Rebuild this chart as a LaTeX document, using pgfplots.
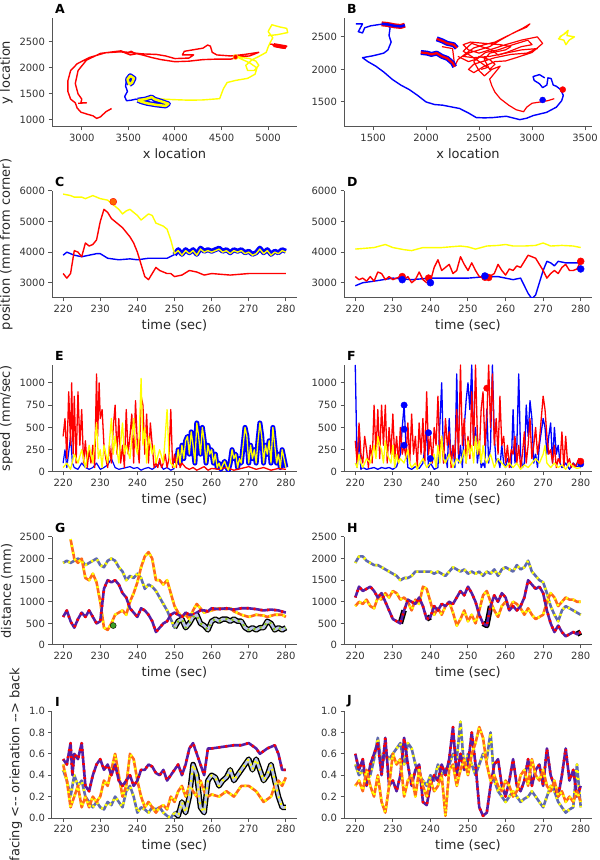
\documentclass[border=0pt]{standalone}
\usepackage{fontspec}
\setmainfont{DejaVu Sans}
\usepackage{pgfplots}
\usepackage{pgfplotstable}
\pgfplotsset{compat=1.18}
\definecolor{myred}{RGB}{255,0,0}
\definecolor{myblue}{RGB}{0,0,255}
\definecolor{myyel}{RGB}{255,255,0}
\definecolor{spine}{RGB}{85,85,85}
\definecolor{mygreen}{RGB}{60,160,40}
\definecolor{purp}{RGB}{85,30,165}
\definecolor{orng}{RGB}{255,105,25}
\definecolor{slate}{RGB}{95,105,175}
\definecolor{pale}{RGB}{185,195,235}
\tikzset{letter/.style={font=\bfseries\fontsize{12.5}{13}\selectfont, anchor=south west, inner sep=1pt, xshift=2pt, yshift=3pt}}
\pgfplotsset{
  panel/.style={scale only axis, axis x line*=bottom, axis y line*=left,
    axis line style={spine, line width=1pt},
    every tick/.style={spine, line width=1pt},
    tick align=outside, major tick length=3.5pt,
    tick label style={font=\fontsize{10}{11}\selectfont, text=black!80},
    label style={font=\fontsize{13}{14}\selectfont, text=black!85},
    /pgf/number format/assume math mode=true,
    /pgf/number format/1000 sep={},
    scaled ticks=false,
    every axis plot/.append style={line join=round},
  },
  ts/.style={panel, xmin=217, xmax=283, xtick={220,230,...,280}, xlabel={time (sec)}},
  R/.style={myred, line width=1.4pt},
  B/.style={myblue, line width=1.4pt},
  Y/.style={myyel, line width=1.4pt},
  hb/.style={myblue, line width=5pt},
  hr/.style={myred, line width=5pt},
  dbase/.style={line width=2.6pt},
  ddash/.style={line width=2.6pt, dash pattern=on 2pt off 5pt, dash phase=1pt},
  BRp/.style={dbase, purp}, BRd/.style={ddash, myred},
  RYp/.style={dbase, orng}, RYd/.style={ddash, myyel},
  BYp/.style={dbase, slate}, BYd/.style={ddash, myyel},
  blk/.style={black, line width=5.5pt},
}
% ---------- distance tables ----------
\pgfplotstableread[row sep=\\]{t v\\ 220 650\\ 221 800\\ 222 550\\ 223 400\\ 224 600\\ 225 750\\ 226 650\\ 227 800\\ 228 650\\ 229 500\\ 230 550\\ 231 1300\\ 232 1500\\ 233 1450\\ 234 1500\\ 235 1400\\ 236 1200\\ 237 1100\\ 238 850\\ 239 750\\ 240 650\\ 241 850\\ 242 800\\ 243 700\\ 244 550\\ 245 300\\ 246 400\\ 247 500\\ 248 550\\ 249 700\\ 250 750\\ 251 700\\ 252 650\\ 253 750\\ 254 700\\ 255 700\\ 256 750\\ 257 800\\ 258 800\\ 259 780\\ 260 850\\ 262 830\\ 264 850\\ 266 820\\ 268 850\\ 270 850\\ 272 830\\ 274 800\\ 276 820\\ 278 800\\ 280 750\\}\GBR
\pgfplotstableread[row sep=\\]{t v\\ 222 2450\\ 223 2000\\ 224 1900\\ 225 2000\\ 226 1550\\ 227 1500\\ 228 1650\\ 229 1450\\ 230 1000\\ 231 400\\ 232 350\\ 233 500\\ 234 700\\ 235 750\\ 236 800\\ 237 700\\ 238 1000\\ 239 1200\\ 240 1450\\ 241 1800\\ 242 2050\\ 243 2150\\ 244 2000\\ 245 1500\\ 246 1500\\ 247 1400\\ 248 1500\\ 249 1200\\ 250 900\\ 251 750\\ 252 650\\ 253 700\\ 254 600\\ 255 800\\ 256 950\\ 257 850\\ 258 750\\ 259 780\\ 260 800\\ 262 850\\ 264 830\\ 265 850\\ 266 780\\ 268 700\\ 270 650\\ 272 700\\ 274 680\\ 275 650\\ 277 700\\ 279 700\\ 280 650\\}\GRY
\pgfplotstableread[row sep=\\]{t v\\ 220 1900\\ 221 1950\\ 222 1900\\ 223 1950\\ 224 2000\\ 225 1950\\ 226 1850\\ 227 1900\\ 228 1950\\ 229 2000\\ 230 1850\\ 231 1800\\ 232 1950\\ 233 2000\\ 234 1950\\ 235 1800\\ 236 1700\\ 237 1500\\ 238 1600\\ 239 1550\\ 240 1650\\ 241 1550\\ 242 1300\\ 243 1400\\ 244 1350\\ 245 1250\\ 246 1100\\ 247 950\\ 248 800\\ 249 600\\ 250 400\\ 251 550\\ 252 600\\ 253 400\\ 254 500\\ 255 650\\ 256 700\\ 257 500\\ 258 450\\ 259 350\\ 260 550\\ 261 600\\ 262 550\\ 263 600\\ 264 600\\ 265 550\\ 266 600\\ 267 550\\ 268 550\\ 269 400\\ 270 350\\ 271 400\\ 272 350\\ 273 400\\ 274 400\\ 275 550\\ 276 500\\ 277 350\\ 278 400\\ 279 350\\ 280 400\\}\GBY
\pgfplotstableread[row sep=\\]{t v\\ 220 1100\\ 221 1350\\ 222 1250\\ 223 1300\\ 224 1350\\ 225 1250\\ 226 1100\\ 227 1200\\ 228 1000\\ 229 800\\ 230 600\\ 231 550\\ 232 500\\ 233 800\\ 234 1050\\ 235 1000\\ 236 950\\ 237 1100\\ 238 900\\ 239 600\\ 240 650\\ 241 900\\ 242 800\\ 243 950\\ 244 900\\ 245 1000\\ 246 950\\ 247 1100\\ 248 1250\\ 249 1150\\ 250 1350\\ 251 1200\\ 252 1000\\ 253 700\\ 254 500\\ 255 450\\ 256 900\\ 257 1150\\ 258 1000\\ 259 1200\\ 260 1100\\ 261 800\\ 262 900\\ 263 800\\ 264 900\\ 265 1100\\ 266 1500\\ 267 1400\\ 268 1300\\ 269 1350\\ 270 1200\\ 271 800\\ 272 500\\ 273 300\\ 274 450\\ 275 300\\ 276 200\\ 277 250\\ 278 300\\ 279 250\\ 280 300\\}\HBR
\pgfplotstableread[row sep=\\]{t v\\ 220 900\\ 221 1000\\ 222 950\\ 223 1050\\ 224 900\\ 225 850\\ 226 1100\\ 227 1050\\ 228 1200\\ 229 1100\\ 230 1250\\ 231 1200\\ 232 1050\\ 233 1100\\ 234 1000\\ 235 800\\ 236 1050\\ 237 950\\ 238 1350\\ 239 1300\\ 240 1000\\ 241 700\\ 242 850\\ 243 700\\ 244 900\\ 245 1000\\ 246 750\\ 247 450\\ 248 600\\ 249 800\\ 250 550\\ 251 700\\ 252 500\\ 253 800\\ 254 1150\\ 255 1250\\ 256 1000\\ 257 800\\ 258 650\\ 259 900\\ 260 1000\\ 261 850\\ 262 1000\\ 263 950\\ 264 850\\ 265 700\\ 266 850\\ 267 700\\ 268 600\\ 269 650\\ 270 700\\ 271 1000\\ 272 1200\\ 273 1100\\ 274 900\\ 275 1000\\ 276 1100\\ 277 1050\\ 278 1050\\ 279 1000\\ 280 1000\\}\HRY
\pgfplotstableread[row sep=\\]{t v\\ 220 1900\\ 221 2050\\ 222 2050\\ 223 1950\\ 224 1900\\ 225 1850\\ 226 1850\\ 227 1800\\ 228 1750\\ 229 1700\\ 230 1650\\ 231 1600\\ 232 1500\\ 233 1550\\ 234 1550\\ 235 1600\\ 236 1700\\ 237 1700\\ 238 1700\\ 239 1700\\ 240 1700\\ 241 1650\\ 242 1700\\ 243 1650\\ 244 1600\\ 245 1700\\ 246 1800\\ 247 1750\\ 248 1700\\ 249 1750\\ 250 1650\\ 251 1700\\ 252 1650\\ 253 1700\\ 254 1600\\ 255 1700\\ 256 1650\\ 257 1750\\ 258 1600\\ 259 1750\\ 260 1800\\ 261 1750\\ 262 1700\\ 263 1850\\ 264 1750\\ 265 1800\\ 266 1950\\ 267 1700\\ 268 1600\\ 269 1500\\ 270 1450\\ 271 1200\\ 272 900\\ 273 700\\ 274 550\\ 275 800\\ 276 900\\ 277 850\\ 278 800\\ 279 750\\ 280 700\\}\HBY
% ---------- orientation tables ----------
\pgfplotstableread[row sep=\\]{t v\\ 220 0.55\\ 221 0.5\\ 222 0.7\\ 222.5 0.4\\ 223 0.6\\ 224 0.55\\ 225 0.7\\ 226 0.3\\ 227 0.25\\ 228 0.4\\ 229 0.5\\ 230 0.55\\ 231 0.45\\ 232 0.5\\ 233 0.4\\ 234 0.5\\ 235 0.35\\ 236 0.3\\ 237 0.35\\ 238 0.4\\ 239 0.3\\ 240 0.35\\ 241 0.45\\ 242 0.45\\ 243 0.5\\ 244 0.48\\ 245 0.42\\ 246 0.4\\ 247 0.45\\ 248 0.35\\ 249 0.4\\ 250 0.45\\ 251 0.5\\ 252 0.4\\ 253 0.5\\ 254 0.65\\ 255 0.7\\ 256 0.6\\ 257 0.5\\ 258 0.4\\ 259 0.65\\ 260 0.65\\ 262 0.66\\ 264 0.67\\ 266 0.68\\ 268 0.68\\ 270 0.7\\ 272 0.65\\ 273 0.6\\ 275 0.65\\ 277 0.68\\ 278 0.6\\ 279 0.45\\ 280 0.45\\}\IBR
\pgfplotstableread[row sep=\\]{t v\\ 220 0.5\\ 221 0.35\\ 222 0.1\\ 223 0.2\\ 224 0.3\\ 225 0.1\\ 226 0.2\\ 227 0.1\\ 228 0.2\\ 229 0.15\\ 230 0.2\\ 231 0.35\\ 232 0.3\\ 233 0.45\\ 234 0.6\\ 235 0.4\\ 236 0.2\\ 237 0.3\\ 238 0.6\\ 239 0.55\\ 240 0.35\\ 241 0.2\\ 242 0.1\\ 243 0.15\\ 244 0.1\\ 245 0.05\\ 246 0.1\\ 247 0.12\\ 248 0.08\\ 249 0.2\\ 250 0.15\\ 251 0.25\\ 252 0.3\\ 253 0.2\\ 254 0.3\\ 255 0.25\\ 256 0.2\\ 257 0.35\\ 258 0.25\\ 259 0.2\\ 260 0.22\\ 262 0.2\\ 264 0.25\\ 266 0.2\\ 268 0.3\\ 270 0.3\\ 272 0.25\\ 274 0.15\\ 276 0.2\\ 277 0.3\\ 278 0.35\\ 279 0.3\\ 280 0.38\\}\IRY
\pgfplotstableread[row sep=\\]{t v\\ 220 0.45\\ 221 0.35\\ 222 0.2\\ 223 0.4\\ 224 0.3\\ 225 0.35\\ 226 0.2\\ 227 0.15\\ 228 0.1\\ 229 0.15\\ 230 0.1\\ 231 0.08\\ 232 0.15\\ 233 0.12\\ 234 0.2\\ 235 0.15\\ 236 0.1\\ 237 0.25\\ 238 0.3\\ 239 0.2\\ 240 0.05\\ 241 0.1\\ 242 0.08\\ 243 0.05\\ 244 0.1\\ 245 0.08\\ 246 0.1\\ 247 0.05\\ 248 0.02\\ 249 0.0\\ 250 0.05\\ 251 0.02\\ 252 0.15\\ 253 0.05\\ 254 0.2\\ 255 0.5\\ 256 0.4\\ 257 0.1\\ 258 0.05\\ 259 0.35\\ 260 0.4\\ 261 0.38\\ 262 0.3\\ 263 0.35\\ 264 0.38\\ 265 0.45\\ 266 0.35\\ 267 0.4\\ 268 0.45\\ 269 0.5\\ 270 0.55\\ 271 0.45\\ 272 0.55\\ 273 0.45\\ 274 0.35\\ 275 0.4\\ 276 0.5\\ 277 0.35\\ 278 0.2\\ 279 0.1\\ 280 0.1\\}\IBY
\pgfplotstableread[row sep=\\]{t v\\ 220 0.6\\ 221 0.45\\ 222 0.55\\ 223 0.3\\ 224 0.5\\ 225 0.6\\ 226 0.7\\ 227 0.4\\ 228 0.75\\ 229 0.3\\ 230 0.35\\ 231 0.25\\ 232 0.4\\ 233 0.75\\ 234 0.5\\ 235 0.3\\ 236 0.45\\ 237 0.5\\ 238 0.15\\ 239 0.12\\ 240 0.3\\ 241 0.4\\ 242 0.35\\ 243 0.5\\ 244 0.4\\ 245 0.55\\ 246 0.85\\ 247 0.4\\ 248 0.6\\ 249 0.45\\ 250 0.5\\ 251 0.8\\ 252 0.5\\ 253 0.1\\ 254 0.02\\ 255 0.05\\ 256 0.3\\ 257 0.5\\ 258 0.55\\ 259 0.3\\ 260 0.2\\ 261 0.35\\ 262 0.55\\ 263 0.3\\ 264 0.25\\ 265 0.35\\ 266 0.55\\ 267 0.3\\ 268 0.45\\ 269 0.5\\ 270 0.3\\ 271 0.65\\ 272 0.4\\ 273 0.3\\ 274 0.2\\ 275 0.4\\ 276 0.65\\ 277 0.35\\ 278 0.45\\ 279 0.2\\ 280 0.3\\}\JBR
\pgfplotstableread[row sep=\\]{t v\\ 220 0.3\\ 221 0.35\\ 222 0.25\\ 223 0.45\\ 224 0.3\\ 225 0.2\\ 226 0.4\\ 227 0.15\\ 228 0.05\\ 229 0.3\\ 230 0.6\\ 231 0.5\\ 232 0.55\\ 233 0.2\\ 234 0.35\\ 235 0.4\\ 236 0.2\\ 237 0.45\\ 238 0.3\\ 239 0.2\\ 240 0.35\\ 241 0.25\\ 242 0.3\\ 243 0.4\\ 244 0.02\\ 245 0.45\\ 246 0.5\\ 247 0.3\\ 248 0.45\\ 249 0.55\\ 250 0.4\\ 251 0.6\\ 252 0.7\\ 253 0.85\\ 254 0.75\\ 255 0.5\\ 256 0.35\\ 257 0.4\\ 258 0.3\\ 259 0.25\\ 260 0.35\\ 261 0.3\\ 262 0.2\\ 263 0.25\\ 264 0.4\\ 265 0.45\\ 266 0.3\\ 267 0.55\\ 268 0.4\\ 269 0.35\\ 270 0.45\\ 271 0.3\\ 272 0.25\\ 273 0.35\\ 274 0.2\\ 275 0.25\\ 276 0.15\\ 277 0.2\\ 278 0.15\\ 279 0.25\\ 280 0.15\\}\JRY
\pgfplotstableread[row sep=\\]{t v\\ 220 0.5\\ 221 0.4\\ 222 0.45\\ 223 0.35\\ 224 0.4\\ 225 0.55\\ 226 0.75\\ 227 0.5\\ 228 0.6\\ 229 0.55\\ 230 0.6\\ 231 0.65\\ 232 0.7\\ 233 0.5\\ 234 0.7\\ 235 0.65\\ 236 0.5\\ 237 0.4\\ 238 0.35\\ 239 0.3\\ 240 0.4\\ 241 0.35\\ 242 0.5\\ 243 0.4\\ 244 0.45\\ 245 0.5\\ 246 0.6\\ 247 0.55\\ 248 0.9\\ 249 0.45\\ 250 0.6\\ 251 0.5\\ 252 0.4\\ 253 0.5\\ 254 0.6\\ 255 0.55\\ 256 0.8\\ 257 0.35\\ 258 0.25\\ 259 0.2\\ 260 0.15\\ 261 0.2\\ 262 0.25\\ 263 0.2\\ 264 0.15\\ 265 0.18\\ 266 0.2\\ 267 0.25\\ 268 0.2\\ 269 0.15\\ 270 0.1\\ 271 0.2\\ 272 0.3\\ 273 0.25\\ 274 0.15\\ 275 0.1\\ 276 0.05\\ 277 0.08\\ 278 0.1\\ 279 0.5\\ 280 0.1\\}\JBY
% ---------- position tables ----------
\pgfplotstableread[row sep=\\]{t v\\ 220 5900\\ 222 5850\\ 223 5800\\ 225 5800\\ 226 5750\\ 228 5850\\ 229 5800\\ 230 5750\\ 232 5700\\ 233 5600\\ 234 5500\\ 235 5400\\ 236 5250\\ 237 5350\\ 238 5400\\ 239 5300\\ 240 5200\\ 241 5050\\ 242 5150\\ 243 5250\\ 244 5200\\ 245 4950\\ 246 4900\\ 247 4850\\ 248 4750\\ 249 4400\\ 250 3950\\ 251 4050\\ 252 3900\\ 253 4050\\ 254 3950\\ 255 4050\\ 256 3900\\ 257 4100\\ 258 4000\\ 259 4050\\ 260 4000\\ 261 4050\\ 262 4100\\ 263 4000\\ 264 4050\\ 265 3950\\ 266 4050\\ 267 4000\\ 268 4050\\ 269 3950\\ 270 4000\\ 271 3900\\ 272 3950\\ 273 4100\\ 274 3950\\ 275 4050\\ 276 3900\\ 277 4000\\ 278 3950\\ 279 4050\\ 280 4000\\}\CY
\pgfplotstableread[row sep=\\]{t v\\ 220 3900\\ 221 4000\\ 222 3950\\ 223 3900\\ 225 3850\\ 227 3900\\ 229 3950\\ 230 3950\\ 232 3800\\ 235 3750\\ 238 3780\\ 240 3750\\ 243 3800\\ 245 3800\\ 248 3800\\ 250 3920\\ 251 4080\\ 252 3930\\ 253 4080\\ 254 3980\\ 255 4080\\ 256 3930\\ 257 4130\\ 258 4030\\ 259 4080\\ 260 4030\\ 261 4080\\ 262 4130\\ 263 4030\\ 264 4080\\ 265 3980\\ 266 4080\\ 267 4030\\ 268 4080\\ 269 3980\\ 270 4030\\ 271 3930\\ 272 3980\\ 273 4130\\ 274 3980\\ 275 4080\\ 276 3930\\ 277 4030\\ 278 3980\\ 279 4080\\ 280 4030\\}\CB
\begin{document}
\begin{tikzpicture}
\useasboundingbox (0,0) rectangle (600pt,860pt);
% ===== A =====
\begin{axis}[panel, name=A, at={(52pt,733pt)}, anchor=south west, width=245pt, height=109pt,
  xmin=2680, xmax=5310, ymin=865, ymax=2960, xtick={3000,3500,...,5000}, ytick={1000,1500,2000,2500},
  xlabel={x location}, ylabel={y location}]
\addplot[R] coordinates {(3320,1220) (3260,1160) (3200,1060) (3160,1030) (3120,1080) (3060,1110) (2990,1150) (2950,1230) (2930,1330) (2880,1400) (2850,1550) (2850,1750) (2880,1950) (2950,2080) (3080,2200) (3250,2290) (3400,2310) (3550,2290) (3650,2250) (3750,2200) (3850,2160) (4000,2120) (4150,2130) (4300,2160) (4450,2170) (4600,2170) (4700,2220) (4800,2230) (4900,2300) (4750,2260) (4600,2230) (4450,2250) (4400,2300) (4380,2420) (4350,2440) (4300,2380) (4200,2350) (4100,2320) (4080,2250) (4200,2250) (4150,2190) (4000,2180) (3900,2230) (3800,2260) (3650,2270) (3500,2300) (3380,2320) (3200,2280) (3050,2150) (2960,1950) (2930,1700) (2960,1500) (3000,1400) (2990,1330) (3050,1330) (2960,1320)};
\addplot[R] coordinates {(3350,2300) (3420,2330) (3480,2280) (3530,2320) (3580,2270) (3520,2250) (3450,2300)};
\addplot[R] coordinates {(5020,2460) (5100,2440) (5200,2420) (5180,2380) (5100,2400) (5050,2440)};
\addplot[Y] coordinates {(3750,1420) (3880,1400) (4000,1390) (4150,1380) (4300,1385) (4480,1410) (4520,1600) (4560,1720) (4650,1760) (4780,1800) (4860,1880) (4880,2000) (4800,2100) (4700,2180) (4650,2230) (4720,2200) (4800,2180) (4870,2130) (4900,2050) (4850,1950) (4780,1950) (4760,2050) (4830,2160) (4900,2220) (4980,2300) (5000,2400) (5020,2480) (5050,2580) (5000,2700) (5040,2830) (5120,2790) (5200,2760) (5210,2680) (5100,2640) (5000,2620)};
\addplot[B] coordinates {(3530,1870) (3480,1780) (3470,1650) (3490,1550) (3460,1450) (3480,1370) (3530,1380) (3580,1400) (3620,1390)};
\addplot[hb] coordinates {(3510,1680) (3490,1780) (3520,1850) (3560,1800) (3540,1720) (3510,1680)};
\addplot[Y, line width=2.5pt] coordinates {(3510,1680) (3490,1780) (3520,1850) (3560,1800) (3540,1720) (3510,1680)};
\addplot[hb] coordinates {(3600,1380) (3680,1400) (3750,1440) (3780,1400) (3850,1360) (3930,1310) (3900,1270) (3800,1290) (3700,1320) (3640,1350) (3600,1380)};
\addplot[Y, line width=2.5pt] coordinates {(3600,1380) (3680,1400) (3750,1440) (3780,1400) (3850,1360) (3930,1310) (3900,1270) (3800,1290) (3700,1320) (3640,1350) (3600,1380)};
\addplot[hr, line width=4pt] coordinates {(5060,2440) (5150,2410) (5190,2400)};
\addplot[only marks, mark=*, mark size=2.5pt, myred, mark options={draw=myyel}] coordinates {(4650,2210)};
\end{axis}
\node[letter] at (A.north west) {A};
% ===== B =====
\begin{axis}[panel, name=Bp, at={(344pt,733pt)}, anchor=south west, width=248pt, height=109pt,
  xmin=1225, xmax=3566, ymin=1115, ymax=2790, xtick={1500,2000,...,3500}, ytick={1500,2000,2500},
  xlabel={x location}]
\addplot[B] coordinates {(1336,2700) (1400,2700) (1380,2640) (1360,2580) (1400,2560) (1420,2640) (1478,2670) (1560,2690) (1620,2700) (1660,2640) (1650,2520) (1670,2420) (1640,2300) (1600,2250) (1500,2210) (1400,2180) (1450,2120) (1525,2050) (1600,1960) (1683,1844) (1760,1760) (1841,1690) (1920,1600) (1999,1500) (2080,1460) (2157,1450) (2250,1420) (2315,1400) (2400,1330) (2473,1260) (2550,1255) (2631,1260) (2757,1280) (2884,1228) (2950,1250) (3010,1290) (3137,1340) (3230,1420) (3280,1520) (3295,1600) (3270,1690) (3230,1740) (3200,1760) (3180,1860) (3150,1870) (3140,1760) (3100,1720) (3070,1780) (3020,1830) (3010,1890) (3070,1920) (3120,1870)};
\addplot[R, line width=1.2pt] coordinates {(2150,2350) (2250,2320) (2270,2050) (2300,2150) (2380,2250) (2450,2330) (2550,2380) (2650,2420) (2750,2500) (2850,2580) (2950,2650) (2980,2700) (2920,2640) (2800,2540) (2700,2450) (2600,2350) (2500,2300) (2400,2250) (2350,2200) (2450,2180) (2600,2200) (2750,2250) (2900,2300) (3050,2320) (2950,2250) (2800,2230) (2650,2180) (2550,2130) (2450,2080) (2400,2000) (2450,1950) (2550,2050) (2650,2120) (2750,2130) (2850,2180) (3000,2260) (3100,2400) (3050,2500) (2900,2450) (2750,2380) (2600,2300) (2500,2250) (2400,2300) (2350,2380) (2420,2420) (2550,2400) (2700,2380) (2800,2350) (2750,2300) (2600,2250) (2550,2150) (2600,2000) (2650,2080) (2600,2150) (2500,2200) (2450,2120) (2500,1980) (2550,1900) (2620,2000) (2700,2050) (2650,1950) (2600,1850) (2620,1750) (2650,1650) (2700,1550) (2780,1450) (2850,1380) (2920,1350) (2950,1420) (3000,1480) (3080,1500) (3150,1520) (3210,1550)};
\addplot[R, line width=1.2pt] coordinates {(2300,2200) (2400,2120) (2480,2160) (2560,2260) (2680,2300) (2820,2380) (2960,2450) (3000,2380) (2900,2350) (2760,2260) (2680,2220) (2620,2300) (2520,2350) (2430,2400) (2350,2280) (2420,2210) (2520,2100) (2580,2030) (2520,2000)};
\addplot[Y] coordinates {(3260,2500) (3300,2540) (3340,2600) (3330,2520) (3400,2500) (3350,2450) (3320,2380) (3300,2450) (3250,2470) (3280,2520) (3320,2560)};
\addplot[hr] coordinates {(1580,2700) (1640,2690) (1700,2670) (1760,2660) (1800,2680)};
\addplot[B, line width=2.5pt] coordinates {(1580,2700) (1640,2690) (1700,2670) (1760,2660) (1800,2680)};
\addplot[hb] coordinates {(2100,2470) (2150,2440) (2200,2400) (2260,2380) (2290,2330)};
\addplot[R, line width=2.2pt] coordinates {(2100,2470) (2150,2440) (2200,2400) (2260,2380) (2290,2330)};
\addplot[hb] coordinates {(1950,2260) (2010,2250) (2050,2230) (2100,2250) (2150,2200) (2200,2170) (2250,2100) (2270,2040)};
\addplot[R, line width=2.2pt] coordinates {(1950,2260) (2010,2250) (2050,2230) (2100,2250) (2150,2200) (2200,2170) (2250,2100) (2270,2040)};
\addplot[only marks, mark=*, mark size=3pt, myblue] coordinates {(3100,1530)};
\addplot[only marks, mark=*, mark size=3pt, myred] coordinates {(3290,1690)};
\end{axis}
\node[letter] at (Bp.north west) {B};
% ===== C =====
\begin{axis}[ts, name=C, at={(52pt,562pt)}, anchor=south west, width=245pt, height=107pt,
  ymin=2500, ymax=6000, ytick={3000,4000,5000,6000}, ylabel={position (mm from corner)}]
\addplot[B, restrict x to domain=217:250.5] table {\CB};
\addplot[hb, restrict x to domain=249.5:283] table {\CB};
\addplot[R] coordinates {(220,3300) (221,3150) (222,3300) (223,4050) (224,4000) (225,3850) (226,4300) (227,4200) (228,4250) (229,4400) (230,5000) (231,5400) (232,5300) (233,5100) (234,5000) (235,4900) (236,4800) (237,4650) (238,4500) (239,4300) (240,4000) (241,3600) (242,3200) (243,3100) (244,3300) (245,3500) (246,3400) (247,3350) (248,3300) (249,3300) (250,3200) (252,3250) (254,3400) (256,3350) (258,3250) (260,3300) (265,3250) (270,3300) (275,3300) (280,3300)};
\addplot[Y] table {\CY};
\addplot[only marks, mark=*, mark size=3.5pt, myred, mark options={fill=myred!60!myyel}] coordinates {(233.5,5650)};
\end{axis}
\node[letter] at (C.north west) {C};
% ===== D =====
\begin{axis}[ts, name=D, at={(344pt,562pt)}, anchor=south west, width=248pt, height=107pt,
  ymin=2500, ymax=6000, ytick={3000,4000,5000,6000}]
\addplot[Y] coordinates {(220,4100) (222,4120) (225,4150) (228,4250) (230,4150) (233,4080) (235,4050) (238,4150) (240,4150) (243,4150) (245,4170) (248,4200) (250,4170) (252,4100) (255,4200) (258,4220) (260,4250) (262,4200) (265,4200) (268,4220) (270,4300) (272,4200) (275,4220) (278,4200) (280,4150)};
\addplot[B] coordinates {(220,2900) (222,3000) (225,3050) (230,3150) (235,3100) (240,3150) (245,3150) (250,3150) (255,3200) (258,3200) (260,3150) (262,3100) (264,3150) (265,2900) (266,2650) (267,2480) (268,2600) (269,3000) (270,3400) (271,3700) (272,3650) (273,3550) (274,3700) (276,3650) (278,3650) (280,3650)};
\addplot[R] coordinates {(220,3200) (221,3100) (222,3150) (223,3050) (224,3200) (225,3050) (226,3350) (227,3300) (228,3100) (229,3200) (230,3100) (232,3200) (233,3100) (234,3200) (235,3000) (236,3100) (237,3350) (238,3100) (239,3000) (240,3050) (241,3500) (242,3750) (243,3400) (244,3500) (245,3600) (246,3300) (247,3400) (248,3850) (249,3600) (250,3400) (251,3650) (252,3400) (253,3200) (255,3150) (257,3300) (258,3600) (259,3400) (260,3250) (261,3450) (262,3400) (263,3550) (264,3500) (265,3700) (266,3900) (267,3850) (268,3800) (269,3600) (270,3400) (271,3150) (272,3300) (273,3400) (274,3300) (275,3500) (276,3600) (277,3400) (278,3400) (279,3450) (280,3700)};
\addplot[only marks, mark=*, mark size=3.5pt, myred] coordinates {(232.5,3200) (239.5,3150) (254.5,3180) (255.5,3170) (280,3700)};
\addplot[only marks, mark=*, mark size=3.5pt, myblue] coordinates {(232.5,3100) (240,3000) (254.5,3220) (280,3450)};
\end{axis}
\node[letter] at (D.north west) {D};
% ===== E =====
\begin{axis}[ts, name=E, at={(52pt,388pt)}, anchor=south west, width=245pt, height=107pt,
  ymin=0, ymax=1200, ytick={0,250,500,750,1000}, ylabel={speed (mm/sec)}]
\addplot[B, line width=1.2pt] coordinates {(220,100) (220.5,250) (221,50) (222,400) (222.5,100) (223,50) (224,30) (225,100) (226,50) (227,30) (228,50) (229,100) (230,30) (231,50) (232,80) (233,150) (234,50) (235,30) (236,40) (237,50) (238,60) (239,40) (240,50) (241,20) (242,40) (243,50) (244,30) (245,60) (246,100) (247,30) (248,50) (249,20) (250,40)};
\addplot[myblue, line width=5pt, line join=round] coordinates {(250.5,100) (251,250) (251.5,100) (252,300) (252.5,150) (253,350) (253.5,400) (254,200) (254.5,450) (255,300) (255.5,100) (256,550) (256.5,400) (257,200) (257.5,500) (258,350) (258.5,100) (259,300) (259.5,200) (260,250) (260.5,100) (261,200) (261.5,50) (262,100) (262.5,30) (263,80) (263.5,120) (264,60) (264.5,20) (265,100) (265.5,250) (266,150) (266.5,200) (267,50) (267.5,150) (268,100) (268.5,300) (269,500) (269.5,400) (270,100) (270.5,300) (271,150) (271.5,250) (272,100) (272.5,350) (273,550) (273.5,400) (274,100) (274.5,300) (275,200) (275.5,350) (276,100) (276.5,500) (277,300) (277.5,100) (278,200) (278.5,50) (279,250) (279.5,150) (280,50)};
\addplot[R, line width=1.3pt] coordinates {(220,400) (220.5,600) (221,150) (221.5,900) (222,300) (222.3,1000) (222.7,200) (223,850) (223.5,100) (224,900) (224.5,300) (225,700) (225.5,100) (226,350) (226.5,50) (227,250) (227.5,100) (228,300) (228.5,50) (229,1100) (229.3,400) (229.7,1000) (230,600) (230.5,700) (231,300) (231.5,150) (232,50) (232.5,300) (233,100) (233.5,500) (234,750) (234.5,200) (235,600) (235.5,100) (236,300) (236.5,50) (237,700) (237.5,200) (238,400) (238.5,650) (239,100) (239.5,800) (240,300) (240.5,100) (241,850) (241.5,750) (242,200) (242.5,650) (243,100) (243.5,550) (244,300) (244.5,50) (245,100) (245.5,50) (246,150) (246.5,50) (247,100) (247.5,200) (248,50) (248.5,150) (249,700) (249.5,50) (250,200) (250.5,50) (251,250) (251.5,50) (252,100) (253,50) (254,30) (255,50) (256,20) (257,40) (258,60) (259,20) (260,40) (262,30) (264,50) (266,20) (268,40) (270,60) (272,30) (274,50) (276,20) (278,40) (280,30)};
\addplot[Y, line width=1.3pt] coordinates {(220,50) (221,100) (222,30) (223,200) (224,100) (225,250) (226,50) (227,300) (228,100) (229,550) (229.5,150) (230,250) (230.5,50) (231,300) (232,100) (233,600) (233.5,200) (234,400) (235,100) (236,550) (236.5,200) (237,300) (238,150) (239,600) (239.5,300) (240,200) (240.5,400) (241,1050) (241.5,300) (242,500) (242.5,100) (243,400) (244,200) (244.5,300) (245,100) (246,250) (247,100) (248,700) (248.5,200) (249,100) (250,50) (250.5,100) (251,250) (251.5,100) (252,300) (252.5,150) (253,350) (253.5,400) (254,200) (254.5,450) (255,300) (255.5,100) (256,550) (256.5,400) (257,200) (257.5,500) (258,350) (258.5,100) (259,300) (259.5,200) (260,250) (260.5,100) (261,200) (261.5,50) (262,100) (262.5,30) (263,80) (263.5,120) (264,60) (264.5,20) (265,100) (265.5,250) (266,150) (266.5,200) (267,50) (267.5,150) (268,100) (268.5,300) (269,500) (269.5,400) (270,100) (270.5,300) (271,150) (271.5,250) (272,100) (272.5,350) (273,550) (273.5,400) (274,100) (274.5,300) (275,200) (275.5,350) (276,100) (276.5,500) (277,300) (277.5,100) (278,200) (278.5,50) (279,250) (279.5,150) (280,50)};
\end{axis}
\node[letter] at (E.north west) {E};
% ===== F =====
\begin{axis}[ts, name=F, at={(344pt,388pt)}, anchor=south west, width=248pt, height=107pt,
  ymin=0, ymax=1200, ytick={0,250,500,750,1000}]
\addplot[B, line width=1.3pt] coordinates {(220,1200) (220.5,50) (221,400) (221.5,30) (222,50) (223,30) (224,40) (225,50) (226,30) (227,50) (228,40) (229,50) (230,30) (231,60) (232,200) (232.5,500) (233,750) (233.5,300) (234,50) (235,30) (236,60) (237,40) (238,100) (239,450) (239.5,50) (240,100) (241,30) (242,50) (243,1000) (243.5,100) (244,200) (244.5,50) (245,600) (245.5,100) (246,300) (246.5,50) (247,1100) (247.5,100) (248,300) (248.5,50) (249,500) (249.5,800) (250,1000) (250.5,700) (251,1200) (251.5,300) (252,500) (252.5,100) (253,300) (253.5,50) (254,100) (254.5,50) (255,700) (255.5,100) (256,300) (256.5,1200) (257,400) (257.5,100) (258,150) (258.5,50) (259,300) (259.5,100) (260,50) (260.5,150) (261,100) (261.5,50) (262,700) (262.5,100) (263,300) (263.5,1100) (264,200) (264.5,50) (265,100) (265.5,750) (266,400) (266.5,800) (267,600) (267.5,100) (268,200) (268.5,50) (269,300) (269.5,450) (270,600) (270.5,500) (271,200) (271.5,400) (272,550) (272.5,100) (273,500) (273.5,200) (274,300) (274.5,100) (275,50) (276,100) (277,30) (278,100) (279,60) (280,80)};
\addplot[R, line width=1.3pt] coordinates {(220,350) (220.5,100) (221,550) (221.5,200) (222,100) (222.5,400) (223,250) (223.5,50) (224,300) (224.5,100) (225,750) (225.5,200) (226,700) (226.5,150) (227,750) (227.5,300) (228,750) (228.5,100) (229,500) (229.5,200) (230,650) (230.5,150) (231,400) (231.5,100) (232,500) (232.5,200) (233,300) (233.5,150) (234,550) (234.5,100) (235,650) (235.5,200) (236,400) (236.5,50) (237,550) (237.5,200) (238,600) (238.5,100) (239,900) (239.5,200) (240,400) (240.5,100) (241,500) (241.5,300) (242,850) (242.5,200) (243,400) (243.5,100) (244,600) (244.5,300) (245,450) (245.5,50) (246,300) (246.5,150) (247,700) (247.5,200) (248,1200) (248.5,300) (249,600) (249.5,100) (250,400) (250.5,150) (251,900) (251.5,300) (252,1200) (252.5,400) (253,200) (253.5,700) (254,900) (254.5,300) (255,600) (255.5,1200) (256,500) (256.5,1100) (257,300) (257.5,600) (258,200) (258.5,850) (259,300) (259.5,400) (260,100) (260.5,300) (261,50) (261.5,250) (262,200) (262.5,400) (263,100) (263.5,300) (264,50) (264.5,200) (265,450) (265.5,100) (266,300) (266.5,600) (267,150) (267.5,300) (268,500) (268.5,200) (269,350) (269.5,600) (270,850) (270.5,700) (271,400) (271.5,200) (272,250) (272.5,100) (273,300) (273.5,50) (274,150) (274.5,100) (275,450) (275.5,50) (276,400) (276.5,100) (277,150) (277.5,50) (278,100) (278.5,50) (279,100) (279.5,150) (280,100)};
\addplot[Y, line width=1.3pt] coordinates {(220,100) (220.5,50) (221,200) (221.5,100) (222,50) (223,150) (224,100) (225,300) (225.5,150) (226,400) (226.5,300) (227,250) (227.5,100) (228,350) (228.5,200) (229,150) (229.5,100) (230,300) (230.5,50) (231,200) (231.5,100) (232,150) (233,100) (234,250) (234.5,100) (235,50) (236,100) (236.5,30) (237,80) (238,150) (239,50) (240,100) (241,200) (241.5,50) (242,300) (242.5,100) (243,400) (243.5,150) (244,100) (245,200) (246,50) (247,150) (248,100) (249,250) (249.5,100) (250,350) (250.5,200) (251,300) (251.5,100) (252,400) (252.5,200) (253,350) (253.5,100) (254,300) (254.5,150) (255,100) (256,200) (257,50) (258,150) (259,100) (260,50) (261,100) (262,50) (263,100) (264,30) (265,80) (266,50) (267,100) (268,150) (269,100) (270,200) (270.5,300) (271,100) (272,50) (273,100) (274,50) (275,80) (276,30) (277,100) (278,60) (279,40) (280,50)};
\addplot[only marks, mark=*, mark size=3.2pt, myblue] coordinates {(233,750) (233,480) (233,300) (239.5,440) (240,150) (280,90)};
\addplot[only marks, mark=*, mark size=3.2pt, myred] coordinates {(255,940) (280,120)};
\end{axis}
\node[letter] at (F.north west) {F};
% ===== G =====
\begin{axis}[ts, name=G, at={(52pt,215pt)}, anchor=south west, width=245pt, height=108pt,
  ymin=0, ymax=2500, ytick={0,500,...,2500}, ylabel={distance (mm)}]
\addplot[blk, restrict x to domain=249.5:283] table {\GBY};
\addplot[BYp] table {\GBY}; \addplot[BYd] table {\GBY};
\addplot[RYp] table {\GRY}; \addplot[RYd] table {\GRY};
\addplot[BRp] table {\GBR}; \addplot[BRd] table {\GBR};
\addplot[pale, line width=2.4pt, restrict x to domain=249.5:283] table {\GBY};
\addplot[ddash, mygreen!60!myyel, line width=2pt, restrict x to domain=249.5:283] table {\GBY};
\addplot[only marks, mark=*, mark size=3pt, black, mark options={fill=mygreen}] coordinates {(233.5,450)};
\end{axis}
\node[letter] at (G.north west) {G};
% ===== H =====
\begin{axis}[ts, name=H, at={(344pt,215pt)}, anchor=south west, width=248pt, height=108pt,
  ymin=0, ymax=2500, ytick={0,500,...,2500}]
\addplot[blk, restrict x to domain=231.5:233.5] table {\HBR};
\addplot[blk, restrict x to domain=238.5:240.5] table {\HBR};
\addplot[blk, restrict x to domain=253.5:256.5] table {\HBR};
\addplot[blk, restrict x to domain=278.5:280.5] table {\HBR};
\addplot[BYp] table {\HBY}; \addplot[BYd] table {\HBY};
\addplot[RYp] table {\HRY}; \addplot[RYd] table {\HRY};
\addplot[BRp] table {\HBR}; \addplot[BRd] table {\HBR};
\end{axis}
\node[letter] at (H.north west) {H};
% ===== I =====
\begin{axis}[ts, name=I, at={(52pt,42pt)}, anchor=south west, width=245pt, height=107pt,
  ymin=0, ymax=1, ytick={0,0.2,...,1.0},
  yticklabel style={/pgf/number format/.cd, fixed, fixed zerofill, precision=1},
  ylabel={facing <-\kern0pt- orienation -\kern0pt-> back}]
\addplot[blk, restrict x to domain=249.5:283] table {\IBY};
\addplot[BYp] table {\IBY}; \addplot[BYd] table {\IBY};
\addplot[RYp] table {\IRY}; \addplot[RYd] table {\IRY};
\addplot[BRp] table {\IBR}; \addplot[BRd] table {\IBR};
\addplot[pale, line width=2.4pt, restrict x to domain=249.5:283] table {\IBY};
\addplot[ddash, myyel, line width=2pt, restrict x to domain=249.5:283] table {\IBY};
\end{axis}
\node[letter] at (I.north west) {I};
% ===== J =====
\begin{axis}[ts, name=J, at={(344pt,42pt)}, anchor=south west, width=248pt, height=107pt,
  ymin=0, ymax=1, ytick={0,0.2,...,1.0},
  yticklabel style={/pgf/number format/.cd, fixed, fixed zerofill, precision=1}]
\addplot[BYp] table {\JBY}; \addplot[BYd] table {\JBY};
\addplot[BRp] table {\JBR}; \addplot[BRd] table {\JBR};
\addplot[RYp] table {\JRY}; \addplot[RYd] table {\JRY};
\end{axis}
\node[letter] at (J.north west) {J};
\end{tikzpicture}
\end{document}
